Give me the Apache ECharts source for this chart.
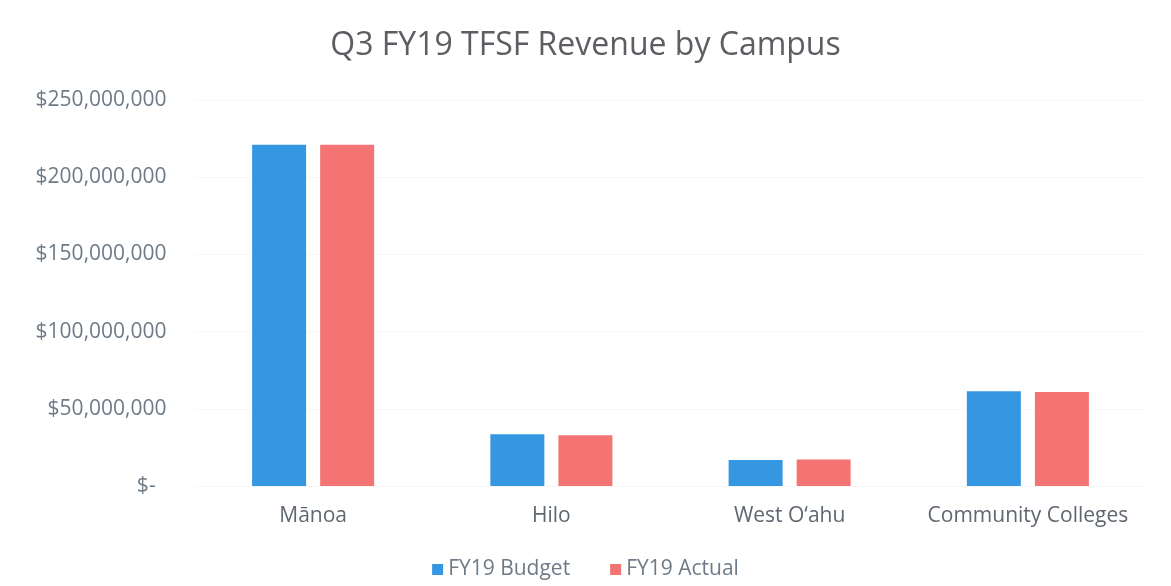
<!DOCTYPE html>
<html>
<head>
<meta charset="utf-8">
<script src="https://cdn.jsdelivr.net/npm/echarts@6/dist/echarts.min.js"></script>
<style>
  html, body { margin: 0; padding: 0; background: #fff; }
  #chart { width: 1171px; height: 586px; }
</style>
</head>
<body>
<div id="chart"></div>
<script>
// chart data
const categories = ['Mānoa', 'Hilo', 'West O‘ahu', 'Community Colleges'];
const budget = [221000000, 33500000, 16900000, 61400000];
const actual = [221000000, 32900000, 17200000, 60800000];
const seriesNames = ['FY19 Budget', 'FY19 Actual'];
const colors = ['#3596e2', '#f47474'];

const fontFamily = '"Open Sans", "Liberation Sans", sans-serif';

function moneyLabel(v) {
    if (v === 0) {
        return '$-   ';
    }
    return '$' + v.toLocaleString('en-US') + ' ';
}

const myChart = echarts.init(document.getElementById('chart'));
myChart.setOption({
    color: colors,
    animation: false,
    title: {
        text: 'Q3 FY19 TFSF Revenue by Campus',
        left: 'center',
        top: 25,
        textStyle: {
            fontFamily: fontFamily,
            fontSize: 32,
            fontWeight: 'normal',
            color: '#5b5e62'
        }
    },
    legend: {
        bottom: 1,
        left: 'center',
        itemWidth: 11,
        itemHeight: 11,
        itemGap: 40,
        icon: 'rect',
        textStyle: {
            fontFamily: fontFamily,
            fontSize: 21,
            color: '#6e7b87'
        },
        data: seriesNames
    },
    grid: {
        top: 100,
        bottom: 100,
        left: 194,
        right: 24
    },
    xAxis: {
        type: 'category',
        data: categories,
        axisLine: { show: false },
        axisTick: { show: false },
        axisLabel: {
            interval: 0,
            margin: 20,
            fontFamily: fontFamily,
            fontSize: 21,
            color: '#5f6770'
        }
    },
    yAxis: {
        type: 'value',
        min: 0,
        max: 250000000,
        interval: 50000000,
        axisLine: { show: false },
        axisTick: { show: false },
        splitLine: {
            lineStyle: { color: '#f7f7f7', width: 1 }
        },
        axisLabel: {
            margin: 22,
            fontFamily: fontFamily,
            fontSize: 21,
            color: '#6e7b87',
            formatter: moneyLabel
        }
    },
    series: [
        {
            name: seriesNames[0],
            type: 'bar',
            data: budget,
            barWidth: 54,
            barGap: '26%'
        },
        {
            name: seriesNames[1],
            type: 'bar',
            data: actual,
            barWidth: 54
        }
    ]
});
</script>
</body>
</html>
